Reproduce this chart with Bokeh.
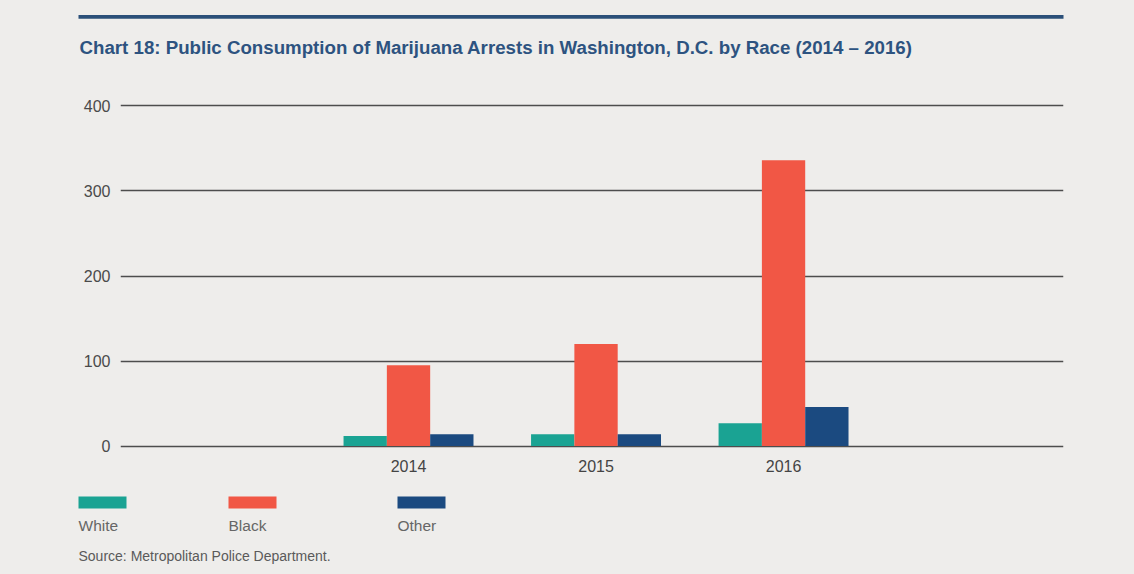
import numpy as np
from bokeh.plotting import figure
from bokeh.layouts import column
from bokeh.models import Range1d, FixedTicker, ColumnDataSource
from bokeh.core.properties import value
from bokeh.embed import file_html
from bokeh.resources import INLINE

# ---- data ----
years = ["2014", "2015", "2016"]
white = [12, 14, 27]
black = [95, 120, 336]
other = [14, 14, 46]
series_names = ["White", "Black", "Other"]
series_colors = ["#1aa393", "#f15745", "#1b4a80"]
y_ticks = [0, 100, 200, 300, 400]

TITLE = "Chart 18: Public Consumption of Marijuana Arrests in Washington, D.C. by Race (2014 \u2013 2016)"
SOURCE = "Source: Metropolitan Police Department."

BG = "#eeedeb"
FONT = "Liberation Sans"
W = 1134


def no_align(f):
    try:
        f.frame_align = False
    except Exception:
        pass


def blank(h):
    f = figure(width=W, height=h, output_backend="svg", toolbar_location=None,
               x_range=Range1d(0, W), y_range=Range1d(h, 0),
               min_border=0, min_border_left=0, min_border_right=0,
               min_border_top=0, min_border_bottom=0)
    f.axis.visible = False
    f.grid.visible = False
    f.outline_line_color = None
    f.background_fill_color = BG
    f.border_fill_color = BG
    no_align(f)
    return f


# ---- header ----
head = blank(80)
head.quad(left=[78], right=[1063], top=[14.5], bottom=[18.2], fill_color="#2b5079", line_color=None)
head.text(x=[79], y=[47], text=[TITLE], text_font=value(FONT), text_font_style="bold",
          text_font_size="18.7px", text_color="#2d5380", text_baseline="alphabetic")

# ---- main chart ----
p = figure(width=W, height=410, output_backend="svg", toolbar_location=None,
           x_range=Range1d(-1.536, 3.493), y_range=Range1d(-4, 404),
           min_border_left=120, min_border_right=71, min_border_top=22, min_border_bottom=41)
p.background_fill_color = BG
p.border_fill_color = BG
p.outline_line_color = None
no_align(p)

bw = 0.231
xs = np.arange(len(years))
for vals, off, col in zip([white, black, other], [-bw, 0, bw], series_colors):
    src = ColumnDataSource(dict(x=xs + off, top=vals))
    p.vbar(x="x", top="top", bottom=0, width=bw, source=src, fill_color=col, line_color=None)

p.xaxis.ticker = FixedTicker(ticks=list(xs))
p.xaxis.major_label_overrides = {int(i): y for i, y in zip(xs, years)}
p.xaxis.axis_line_color = None
p.xaxis.major_tick_line_color = None
p.xaxis.major_tick_out = 0
p.xaxis.minor_tick_line_color = None
p.xaxis.minor_tick_out = 0
p.xaxis.major_label_standoff = 10
p.xaxis.major_label_text_font = FONT
p.xaxis.major_label_text_font_size = "16px"
p.xaxis.major_label_text_color = "#444444"

p.yaxis.ticker = FixedTicker(ticks=y_ticks)
p.yaxis.axis_line_color = None
p.yaxis.major_tick_line_color = None
p.yaxis.major_tick_out = 0
p.yaxis.minor_tick_line_color = None
p.yaxis.minor_tick_out = 0
p.yaxis.major_label_standoff = 10
p.yaxis.major_label_text_font = FONT
p.yaxis.major_label_text_font_size = "16px"
p.yaxis.major_label_text_color = "#4a4a4a"

p.xgrid.grid_line_color = None
p.ygrid.ticker = FixedTicker(ticks=y_ticks)
p.ygrid.grid_line_color = "#4d4d4d"
p.ygrid.grid_line_width = 1.5

# ---- footer: legend + source ----
foot = blank(84)
leg_x = [78, 228, 397]
foot.quad(left=leg_x, right=[x + 48 for x in leg_x], top=[6] * 3, bottom=[18] * 3,
          fill_color=series_colors, line_color=None)
foot.text(x=leg_x, y=[35] * 3, text=series_names, text_font=value(FONT), text_font_size="15.5px",
          text_color="#666666", text_baseline="alphabetic")
foot.text(x=[78], y=[65], text=[SOURCE], text_font=value(FONT), text_font_size="14px",
          text_color="#5a5a5a", text_baseline="alphabetic")

layout = column(head, p, foot, spacing=0)
layout.styles = {"background-color": BG}

open("out.html", "w").write(file_html(layout, INLINE))
